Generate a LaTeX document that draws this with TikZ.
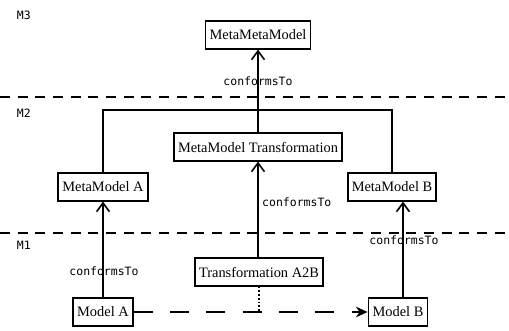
\documentclass[tikz,border=0pt]{standalone}
\usepackage{fontspec}
\setmainfont{Liberation Serif}
\setmonofont{DejaVu Sans Mono}
\usetikzlibrary{arrows.meta}

\tikzset{
  level/.style={dash pattern=on 0.3cm off 0.23cm,line width=1pt},
  levellabel/.style={font=\ttfamily\fontsize{9.8}{11}\selectfont,anchor=west,inner sep=0pt},
  box/.style={draw=black,line width=1.5pt,inner xsep=3.5pt,minimum height=0.82cm,font=\fontsize{12.3}{14}\selectfont},
  conf/.style={line width=1.4pt,-{Straight Barb[length=7.5pt,width=11pt,line width=1.4pt]}},
  conflabel/.style={font=\ttfamily\fontsize{9.8}{11}\selectfont,inner sep=0pt},
}

\begin{document}
\begin{tikzpicture}
\useasboundingbox (0,0) rectangle (15.27,9.9);
\node[levellabel] (m3) at (0.5,9.45) {M3};
\node[levellabel] (m2) at (0.5,6.51) {M2};
\node[levellabel] (m1) at (0.5,2.55) {M1};
\coordinate (l2a) at (0,6.99);
\coordinate (l2b) at (15.27,6.99);
\coordinate (l1a) at (0,2.91);
\coordinate (l1b) at (15.27,2.91);
\draw[level] (l2a) -- (l2b);
\draw[level] (l1a) -- (l1b);

\node[box] (0) at (7.74,8.85) {MetaMetaModel};
\node[box] (1) at (7.74,5.49) {MetaModel Transformation};
\node[box] (2) at (3.09,4.29) {MetaModel A};
\node[box] (3) at (11.76,4.29) {MetaModel B};
\node[box] (4) at (7.77,1.74) {Transformation A2B};
\node[box] (5) at (3.09,0.54) {Model A};
\node[box] (6) at (11.94,0.54) {Model B};

\coordinate (j) at (7.74,6.6);
\coordinate (6a) at ([xshift=0.15cm]6.north);
\coordinate (t) at (4.south |- 5.east);

\draw[line width=1.4pt] (2.north) |- (j) -| (3.north);
\draw[line width=1.4pt] (1.north -| j) -- (j);
\draw[conf] (j) -- (0.south -| j);
\draw[conf] (4.north -| 1.south) -- (1.south);
\draw[conf] (5.north) -- (2.south);
\draw[conf] (6a) -- (6a |- 3.south);

\node[conflabel] (c0) at (7.74,7.47) {conformsTo};
\node[conflabel,anchor=west] (c1) at (7.86,3.84) {conformsTo};
\node[conflabel] (c2) at (3.12,1.77) {conformsTo};
\node[conflabel] (c3) at (12.12,2.7) {conformsTo};

\draw[line width=1.4pt,dash pattern=on 0.57cm off 0.52cm,-{Stealth[length=10pt,width=9pt]}] (5.east) -- (6.west);
\draw[line width=1.4pt,dash pattern=on 1.6pt off 1.6pt] (4.south) -- (t);
\end{tikzpicture}
\end{document}
